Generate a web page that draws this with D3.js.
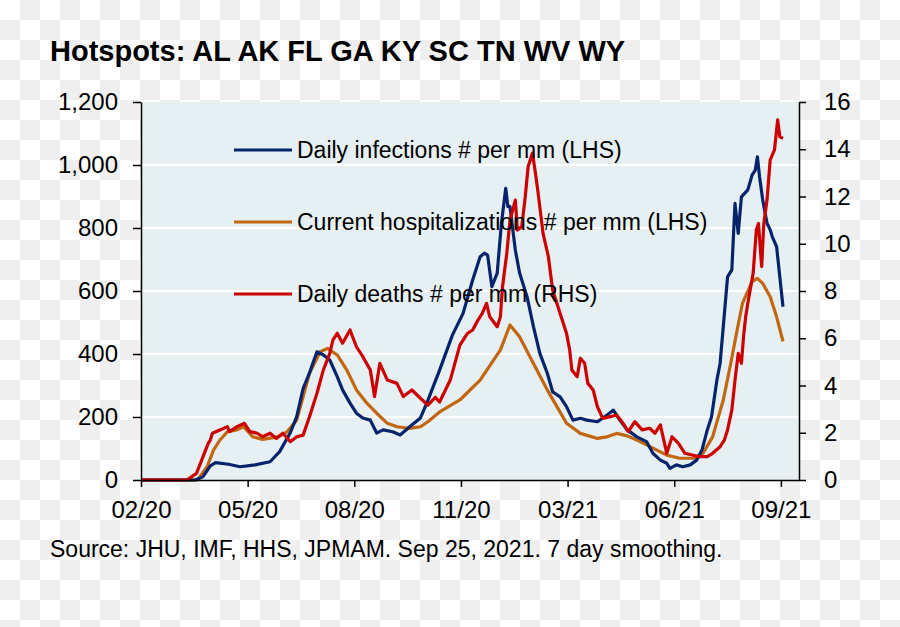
<!DOCTYPE html>
<html>
<head>
<meta charset="utf-8">
<script src="https://cdn.jsdelivr.net/npm/d3@7"></script>
<style>
  html, body { margin: 0; padding: 0; background: #ffffff; }
  svg { display: block; }
  text { font-family: "Liberation Sans", Arial, sans-serif; fill: #000; }
</style>
</head>
<body>
<svg id="chart" width="900" height="627"></svg>
<script>
// ---------------- DATA ----------------
const titleText = "Hotspots: AL AK FL GA KY SC TN WV WY";
const sourceText = "Source: JHU, IMF, HHS, JPMAM. Sep 25, 2021. 7 day smoothing.";

const seriesNames = [
  "Daily infections # per mm (LHS)",
  "Current hospitalizations # per mm (LHS)",
  "Daily deaths # per mm (RHS)"
];

const leftTicks = [0, 200, 400, 600, 800, 1000, 1200];
const rightTicks = [0, 2, 4, 6, 8, 10, 12, 14, 16];
const xTickDates = ["2020-02-01","2020-05-11","2020-08-19","2020-11-27","2021-03-07","2021-06-15","2021-09-23"];
const xTickLabels = ["02/20","05/20","08/20","11/20","03/21","06/21","09/21"];
const xDomain = ["2020-02-01", "2021-10-10"];

const infectionDates = ["2020-02-01","2020-03-23","2020-03-30","2020-04-06","2020-04-11","2020-04-23","2020-05-04","2020-05-18","2020-06-01","2020-06-10","2020-06-20","2020-06-26","2020-07-02","2020-07-08","2020-07-15","2020-07-21","2020-07-27","2020-08-03","2020-08-08","2020-08-15","2020-08-21","2020-08-27","2020-09-03","2020-09-09","2020-09-15","2020-09-24","2020-10-01","2020-10-10","2020-10-20","2020-10-26","2020-11-07","2020-11-19","2020-11-29","2020-12-08","2020-12-15","2020-12-19","2020-12-22","2020-12-26","2020-12-31","2021-01-04","2021-01-08","2021-01-10","2021-01-12","2021-01-17","2021-01-21","2021-01-28","2021-02-03","2021-02-09","2021-02-16","2021-02-21","2021-02-28","2021-03-06","2021-03-12","2021-03-19","2021-03-25","2021-04-04","2021-04-13","2021-04-19","2021-04-25","2021-05-02","2021-05-11","2021-05-20","2021-05-26","2021-06-02","2021-06-08","2021-06-11","2021-06-17","2021-06-23","2021-06-30","2021-07-06","2021-07-11","2021-07-16","2021-07-20","2021-07-25","2021-07-28","2021-07-31","2021-08-04","2021-08-08","2021-08-11","2021-08-14","2021-08-17","2021-08-20","2021-08-23","2021-08-27","2021-08-30","2021-09-01","2021-09-03","2021-09-06","2021-09-10","2021-09-13","2021-09-15","2021-09-19","2021-09-22","2021-09-25"];
const infectionValues = [0,0,10,45,55,50,42,48,58,90,150,201,290,340,407,397,381,328,286,244,212,197,190,149,159,153,143,169,197,244,349,460,529,635,709,720,714,614,657,816,926,868,868,730,657,582,487,402,339,280,264,233,190,196,190,185,206,222,190,159,137,122,85,63,53,37,48,42,48,63,95,159,201,317,370,487,645,667,878,783,899,910,921,968,984,1026,963,889,815,794,772,741,645,550];

const hospDates = ["2020-02-01","2020-03-25","2020-04-03","2020-04-09","2020-04-15","2020-04-22","2020-05-01","2020-05-07","2020-05-16","2020-05-25","2020-06-08","2020-06-17","2020-06-26","2020-07-02","2020-07-08","2020-07-18","2020-07-25","2020-08-03","2020-08-12","2020-08-21","2020-08-31","2020-09-09","2020-09-19","2020-09-28","2020-10-10","2020-10-20","2020-10-27","2020-11-07","2020-11-26","2020-12-15","2021-01-03","2021-01-12","2021-01-21","2021-02-03","2021-02-16","2021-02-25","2021-03-06","2021-03-19","2021-04-04","2021-04-13","2021-04-22","2021-05-02","2021-05-14","2021-05-26","2021-06-08","2021-06-20","2021-07-03","2021-07-12","2021-07-21","2021-07-31","2021-08-07","2021-08-13","2021-08-18","2021-08-27","2021-09-01","2021-09-06","2021-09-13","2021-09-19","2021-09-25"];
const hospValues = [0,0,42,95,127,153,159,169,137,129,137,153,190,264,339,407,418,397,349,286,243,212,180,169,164,169,185,216,254,317,413,492,455,370,286,233,180,148,132,137,148,140,122,101,79,69,69,85,137,254,370,476,561,630,640,624,582,518,440];

const deathDates = ["2020-02-01","2020-03-15","2020-03-24","2020-03-29","2020-04-04","2020-04-06","2020-04-08","2020-04-15","2020-04-22","2020-04-24","2020-05-01","2020-05-08","2020-05-13","2020-05-20","2020-05-25","2020-06-01","2020-06-07","2020-06-13","2020-06-20","2020-06-26","2020-07-02","2020-07-08","2020-07-15","2020-07-21","2020-07-27","2020-07-30","2020-08-03","2020-08-08","2020-08-15","2020-08-21","2020-08-27","2020-09-03","2020-09-07","2020-09-12","2020-09-19","2020-09-28","2020-10-04","2020-10-12","2020-10-20","2020-10-27","2020-11-03","2020-11-07","2020-11-17","2020-11-26","2020-12-03","2020-12-08","2020-12-13","2020-12-17","2020-12-21","2020-12-24","2020-12-31","2021-01-03","2021-01-05","2021-01-09","2021-01-12","2021-01-17","2021-01-19","2021-01-23","2021-01-26","2021-01-29","2021-02-02","2021-02-04","2021-02-07","2021-02-12","2021-02-17","2021-02-21","2021-02-28","2021-03-06","2021-03-09","2021-03-11","2021-03-16","2021-03-19","2021-03-23","2021-03-26","2021-03-31","2021-04-04","2021-04-09","2021-04-16","2021-04-22","2021-04-28","2021-05-03","2021-05-09","2021-05-16","2021-05-23","2021-05-28","2021-06-02","2021-06-08","2021-06-13","2021-06-19","2021-06-25","2021-07-02","2021-07-07","2021-07-16","2021-07-21","2021-07-28","2021-08-01","2021-08-04","2021-08-08","2021-08-11","2021-08-14","2021-08-17","2021-08-19","2021-08-21","2021-08-23","2021-08-28","2021-08-31","2021-09-02","2021-09-05","2021-09-07","2021-09-10","2021-09-13","2021-09-17","2021-09-20","2021-09-22","2021-09-25"];
const deathValues = [0,0,0.28,0.85,1.55,1.69,1.98,2.12,2.26,2.05,2.26,2.4,2.05,1.98,1.83,1.98,1.76,1.98,1.62,1.83,1.9,2.68,3.67,4.66,5.36,5.93,6.21,5.79,6.35,5.64,5.22,4.66,3.53,4.94,4.23,4.09,3.53,3.81,3.46,3.17,3.5,3.3,4.23,5.71,6.2,6.35,6.77,7.05,7.48,6.91,6.49,6.91,8.18,9.6,11.0,11.85,10.58,10.72,11.85,13.26,13.83,13.26,12.28,10.44,9.45,8.04,7.05,6.21,5.5,4.66,4.37,5.15,4.94,4.09,3.81,3.1,2.61,2.68,2.75,2.4,2.05,2.47,2.12,2.19,1.98,2.33,1.13,1.83,1.55,1.13,1.06,0.99,0.99,1.13,1.41,1.69,2.12,2.96,4.23,5.36,4.94,6.07,6.91,7.48,8.75,10.58,10.86,9.03,10.86,11.85,13.55,13.97,15.24,14.53,14.46];

const seriesColors = ["#06246b", "#c2660f", "#cc0000"];

// ---------------- LAYOUT ----------------
const W = 900, H = 627;
const plot = { left: 141, right: 799, top: 102, bottom: 480 };
const parse = d3.utcParse("%Y-%m-%d");

const svg = d3.select("#chart");

// checkerboard background
const defs = svg.append("defs");
const pat = defs.append("pattern")
  .attr("id", "checker").attr("patternUnits", "userSpaceOnUse")
  .attr("width", 40).attr("height", 40);
pat.append("rect").attr("width", 40).attr("height", 40).attr("fill", "#ffffff");
pat.append("rect").attr("x", 20).attr("y", 0).attr("width", 20).attr("height", 20).attr("fill", "#efefef");
pat.append("rect").attr("x", 0).attr("y", 20).attr("width", 20).attr("height", 20).attr("fill", "#efefef");
svg.append("rect").attr("width", W).attr("height", H).attr("fill", "url(#checker)");

// scales
const x = d3.scaleUtc().domain(xDomain.map(parse)).range([plot.left, plot.right]);
const yL = d3.scaleLinear().domain([0, 1200]).range([plot.bottom, plot.top]);
const yR = d3.scaleLinear().domain([0, 16]).range([plot.bottom, plot.top]);

// plot background
svg.append("rect")
  .attr("x", plot.left).attr("y", plot.top)
  .attr("width", plot.right - plot.left).attr("height", plot.bottom - plot.top)
  .attr("fill", "#e6eff2");

// gridlines
svg.append("g").selectAll("line")
  .data(leftTicks.filter(d => d > 0 && d < 1200))
  .join("line")
  .attr("x1", plot.left).attr("x2", plot.right)
  .attr("y1", d => yL(d)).attr("y2", d => yL(d))
  .attr("stroke", "#ffffff").attr("stroke-width", 2);

// title
svg.append("text")
  .attr("x", 50).attr("y", 61)
  .attr("font-size", 29).attr("font-weight", "bold")
  .text(titleText);

// lines
const seriesData = [
  { dates: infectionDates, values: infectionValues, y: yL },
  { dates: hospDates, values: hospValues, y: yL },
  { dates: deathDates, values: deathValues, y: yR }
];
const drawOrder = [1, 0, 2];
drawOrder.forEach(i => {
  const s = seriesData[i];
  const pts = s.dates.map((d, j) => [parse(d), s.values[j]]);
  const line = d3.line().x(d => x(d[0])).y(d => s.y(d[1]));
  svg.append("path")
    .attr("d", line(pts))
    .attr("fill", "none")
    .attr("stroke", seriesColors[i])
    .attr("stroke-width", 3.2)
    .attr("stroke-linejoin", "round");
});

// axes
const fontSize = 24;
const axL = svg.append("g").attr("transform", `translate(${plot.left},0)`)
  .call(d3.axisLeft(yL).tickValues(leftTicks).tickSize(8).tickPadding(15)
    .tickFormat(d3.format(",")).tickSizeOuter(0));
const axR = svg.append("g").attr("transform", `translate(${plot.right},0)`)
  .call(d3.axisRight(yR).tickValues(rightTicks).tickSize(7).tickPadding(18).tickSizeOuter(0));
const axB = svg.append("g").attr("transform", `translate(0,${plot.bottom})`)
  .call(d3.axisBottom(x).tickValues(xTickDates.map(parse)).tickSize(7).tickPadding(14)
    .tickFormat((d, i) => xTickLabels[i]).tickSizeOuter(0));

[axL, axR, axB].forEach(g => {
  g.selectAll("text").attr("font-size", fontSize).attr("font-family", '"Liberation Sans", Arial, sans-serif').attr("fill", "#000");
  g.selectAll("line").attr("stroke", "#000").attr("stroke-width", 1.5);
  g.select(".domain").attr("stroke", "#000").attr("stroke-width", 1.5);
});

// legend
const legendY = [150, 222, 294];
seriesNames.forEach((name, i) => {
  const g = svg.append("g");
  g.append("line")
    .attr("x1", 234).attr("x2", 292)
    .attr("y1", legendY[i]).attr("y2", legendY[i])
    .attr("stroke", seriesColors[i]).attr("stroke-width", 3);
  g.append("text")
    .attr("x", 297).attr("y", legendY[i] + 8)
    .attr("font-size", 23)
    .text(name);
});

// source
svg.append("text")
  .attr("x", 50).attr("y", 557)
  .attr("font-size", 23)
  .text(sourceText);
</script>
</body>
</html>
